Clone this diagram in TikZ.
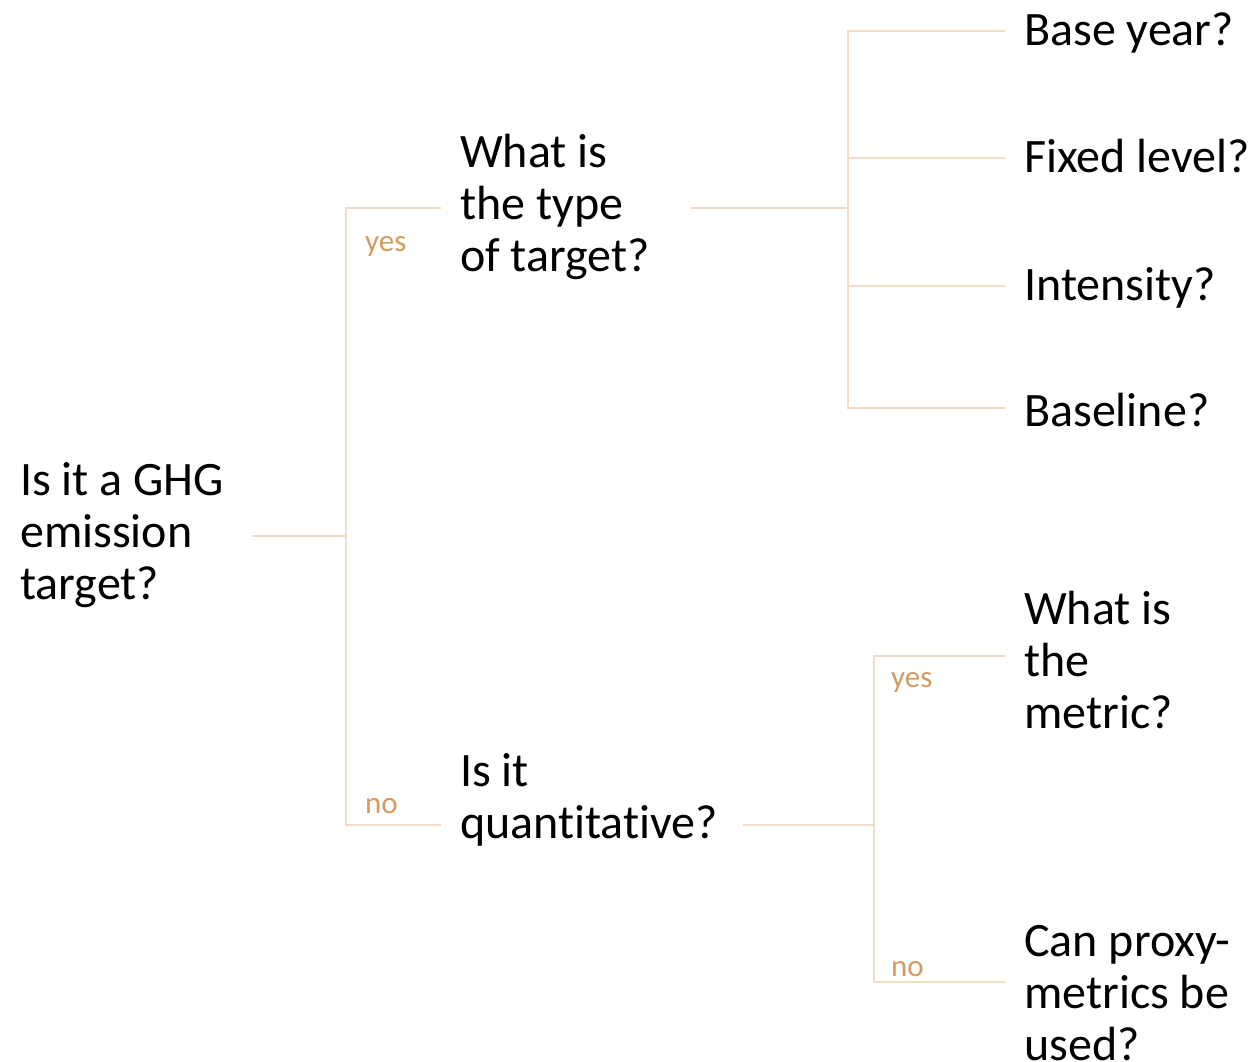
\documentclass[tikz,border=0pt]{standalone}
\usepackage{fontspec}
\setmainfont{Carlito}[Ligatures={NoCommon}]
\definecolor{branch}{RGB}{241,220,198}
\definecolor{answer}{RGB}{212,154,98}
\begin{document}
\begin{tikzpicture}[x=1pt,y=-1pt,
  question/.style={anchor=base west,inner sep=0pt,align=left,
    font=\fontsize{48}{52}\selectfont},
  answerlbl/.style={anchor=base west,inner sep=0pt,text=answer,
    font=\fontsize{31}{36}\selectfont},
  link/.style={draw=branch,line width=1.3pt}]
\useasboundingbox (0,0) rectangle (1255,1061);

% questions (multi-line nodes sit on the baseline of their last line)
\node[question] (root)   at (20,599)   {Is it a GHG\\emission\\target?};
\node[question] (type)   at (460,271)  {What is\\the type\\of target?};
\node[question] (quant)  at (460,838)  {Is it\\quantitative?};
\node[question] (base)   at (1024,45)  {Base year?};
\node[question] (fixed)  at (1024,172) {Fixed level?};
\node[question] (inten)  at (1024,300) {Intensity?};
\node[question] (bline)  at (1024,426) {Baseline?};
\node[question] (metric) at (1024,728) {What is\\the\\metric?};
\node[question] (proxy)  at (1024,1060) {Can proxy-\\metrics be\\used?};

% answers on the branches
\node[answerlbl] (yes1) at (365,251) {yes};
\node[answerlbl] (no1)  at (365,813) {no};
\node[answerlbl] (yes2) at (891,687) {yes};
\node[answerlbl] (no2)  at (891,976) {no};

% connector ends
\coordinate (rootR)   at (252,536);
\coordinate (fork1)   at (346,536);
\coordinate (typeL)   at (441,208);
\coordinate (quantL)  at (441,825);
\coordinate (typeR)   at (691,208);
\coordinate (fork2)   at (848,208);
\coordinate (baseL)   at (1005,31);
\coordinate (fixedL)  at (1005,158);
\coordinate (intenL)  at (1005,286);
\coordinate (blineL)  at (1005,408);
\coordinate (quantR)  at (743,825);
\coordinate (fork3)   at (874,825);
\coordinate (metricL) at (1005,656);
\coordinate (proxyL)  at (1005,982);

% tree branches
\draw[link] (rootR) -- (fork1);
\draw[link] (fork1) |- (typeL);
\draw[link] (fork1) |- (quantL);
\draw[link] (typeR) -- (fork2);
\draw[link] (fork2) |- (baseL);
\draw[link] (fork2) |- (fixedL);
\draw[link] (fork2) |- (intenL);
\draw[link] (fork2) |- (blineL);
\draw[link] (quantR) -- (fork3);
\draw[link] (fork3) |- (metricL);
\draw[link] (fork3) |- (proxyL);
\end{tikzpicture}
\end{document}
